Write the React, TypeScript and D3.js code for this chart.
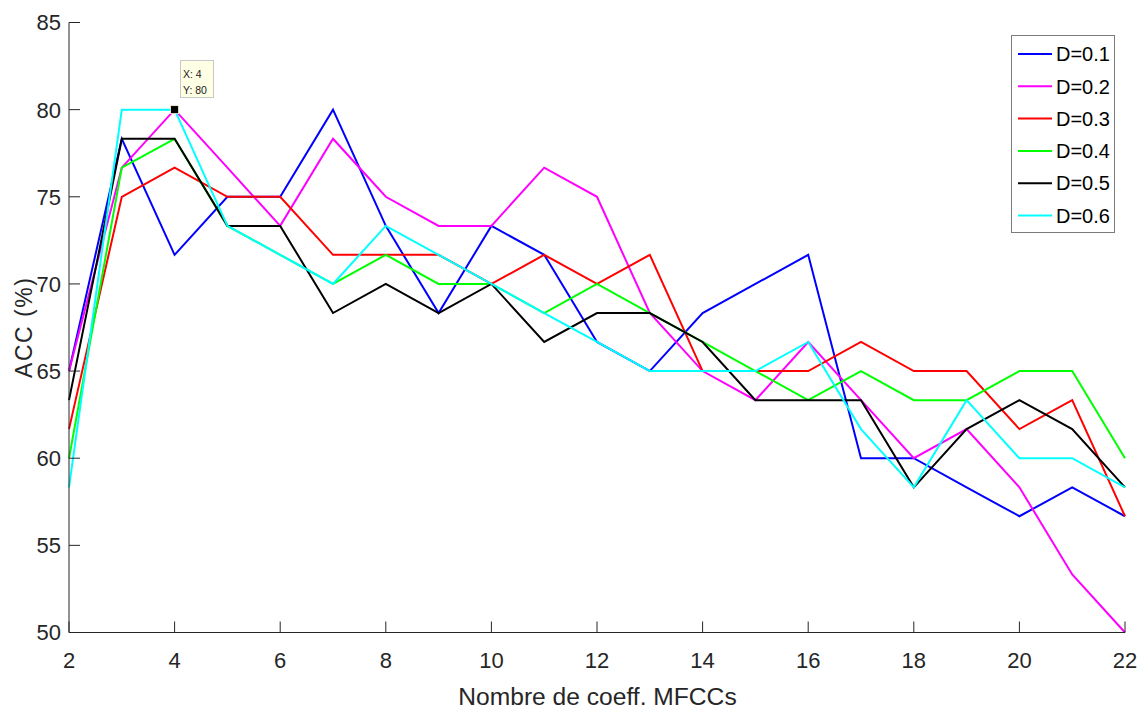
import React from "react";
import * as d3 from "d3";

const xValues = [2, 3, 4, 5, 6, 7, 8, 9, 10, 11, 12, 13, 14, 15, 16, 17, 18, 19, 20, 21, 22];
const seriesNames = ["D=0.1", "D=0.2", "D=0.3", "D=0.4", "D=0.5", "D=0.6"];
const seriesColors = ["#0000ff", "#ff00ff", "#ff0000", "#00ff00", "#000000", "#00ffff"];

const d01 = [65, 78.33, 71.67, 75, 75, 80, 73.33, 68.33, 73.33, 71.67, 66.67, 65, 68.33, 70, 71.67, 60, 60, 58.33, 56.67, 58.33, 56.67];
const d02 = [65, 76.67, 80, 76.67, 73.33, 78.33, 75, 73.33, 73.33, 76.67, 75, 68.33, 65, 63.33, 66.67, 63.33, 60, 61.67, 58.33, 53.33, 50];
const d03 = [61.67, 75, 76.67, 75, 75, 71.67, 71.67, 71.67, 70, 71.67, 70, 71.67, 65, 65, 65, 66.67, 65, 65, 61.67, 63.33, 56.67];
const d04 = [60, 76.67, 78.33, 73.33, 71.67, 70, 71.67, 70, 70, 68.33, 70, 68.33, 66.67, 65, 63.33, 65, 63.33, 63.33, 65, 65, 60];
const d05 = [63.33, 78.33, 78.33, 73.33, 73.33, 68.33, 70, 68.33, 70, 66.67, 68.33, 68.33, 66.67, 63.33, 63.33, 63.33, 58.33, 61.67, 63.33, 61.67, 58.33];
const d06 = [58.33, 80, 80, 73.33, 71.67, 70, 73.33, 71.67, 70, 68.33, 66.67, 65, 65, 65, 66.67, 61.67, 58.33, 63.33, 60, 60, 58.33];
const seriesValues = [d01, d02, d03, d04, d05, d06];

const xTicks = [2, 4, 6, 8, 10, 12, 14, 16, 18, 20, 22];
const yTicks = [50, 55, 60, 65, 70, 75, 80, 85];
const tipPoint = { x: 4, y: 80 };

const W = 1144;
const H = 709;
const M = { left: 69, right: 1125, top: 22.5, bottom: 632.5 };
const AXIS = "#262626";
const FONT = "'Liberation Sans', Arial, Helvetica, sans-serif";

export default function App() {
  const x = d3.scaleLinear().domain([2, 22]).range([M.left, M.right]);
  const y = d3.scaleLinear().domain([50, 85]).range([M.bottom, M.top]);
  const line = d3
    .line<number>()
    .x((_, i) => x(xValues[i]))
    .y((d) => y(d));

  const tipX = x(tipPoint.x);
  const tipY = y(tipPoint.y);

  return (
    <svg
      width={W}
      height={H}
      style={{ position: "absolute", left: 0, top: 0, background: "#fff" }}
      fontFamily={FONT}
    >
      <rect x={0} y={0} width={W} height={H} fill="#fff" />
      {/* series */}
      {seriesValues.map((vals, k) => (
        <path
          key={k}
          d={line(vals) || ""}
          fill="none"
          stroke={seriesColors[k]}
          strokeWidth={2}
          strokeLinejoin="miter"
        />
      ))}

      {/* axes */}
      <line x1={M.left} y1={M.top} x2={M.left} y2={M.bottom} stroke={AXIS} strokeWidth={1} />
      <line x1={M.left} y1={M.bottom} x2={M.right} y2={M.bottom} stroke={AXIS} strokeWidth={1} />
      {yTicks.map((t) => (
        <g key={"y" + t}>
          <line x1={M.left} x2={M.left + 11} y1={y(t)} y2={y(t)} stroke={AXIS} strokeWidth={1} />
          <text
            x={M.left - 8}
            y={y(t)}
            dy="0.36em"
            textAnchor="end"
            fontSize={22}
            fill={AXIS}
          >
            {t}
          </text>
        </g>
      ))}
      {xTicks.map((t) => (
        <g key={"x" + t}>
          <line x1={x(t)} x2={x(t)} y1={M.bottom} y2={M.bottom - 11} stroke={AXIS} strokeWidth={1} />
          <text x={x(t)} y={668} textAnchor="middle" fontSize={22} fill={AXIS}>
            {t}
          </text>
        </g>
      ))}

      {/* axis labels */}
      <text x={597.5} y={705} textAnchor="middle" fontSize={24.6} fill={AXIS}>
        Nombre de coeff. MFCCs
      </text>
      <text
        transform={`translate(32,328) rotate(-90)`}
        textAnchor="middle"
        fontSize={23}
        fill={AXIS}
        textLength={100}
        lengthAdjust="spacing"
      >
        ACC (%)
      </text>

      {/* data tip */}
      <rect x={tipX - 4} y={tipY - 4} width={8} height={8} fill="#000" stroke="#fffbd0" strokeWidth={0.8} />
      <rect x={180.5} y={60.5} width={33} height={37} fill="#ffffe6" stroke="#c8c8c8" strokeWidth={1} />
      <text x={183} y={78} fontSize={10.5} fill="#1a1a1a">
        X: 4
      </text>
      <text x={183} y={94} fontSize={10.5} fill="#1a1a1a">
        Y: 80
      </text>

      {/* legend */}
      <rect x={1011.5} y={35.5} width={103} height={197} fill="#fff" stroke="#7a7a7a" strokeWidth={1} />
      {seriesNames.map((name, k) => {
        const ly = 54 + k * 32.3;
        return (
          <g key={name}>
            <line x1={1018} x2={1052} y1={ly} y2={ly} stroke={seriesColors[k]} strokeWidth={2} />
            <text x={1056} y={ly} dy="0.36em" fontSize={20} fill="#000">
              {name}
            </text>
          </g>
        );
      })}
    </svg>
  );
}
